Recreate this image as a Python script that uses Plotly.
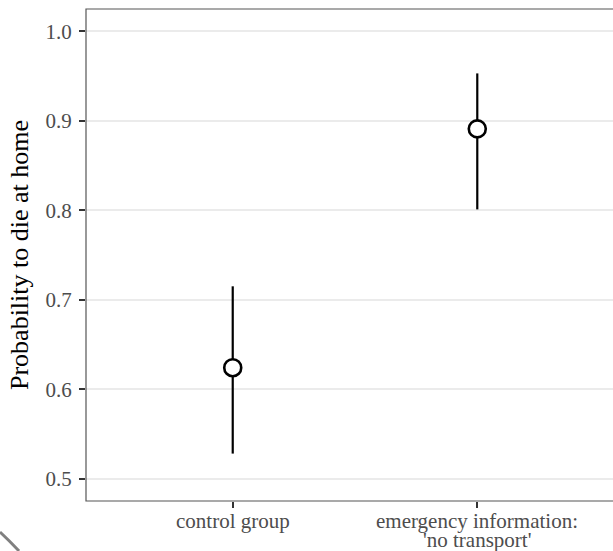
import plotly.graph_objects as go

categories = ["control group", "emergency information:<br>'no transport'"]
estimates = [0.624, 0.891]
lower = [0.528, 0.801]
upper = [0.715, 0.953]
y_ticks = [0.5, 0.6, 0.7, 0.8, 0.9, 1.0]
y_tick_labels = ["0.5", "0.6", "0.7", "0.8", "0.9", "1.0"]

xpos = [1, 2]
font_family = "Liberation Serif, Times New Roman, serif"

fig = go.Figure()
for xp, lo, hi in zip(xpos, lower, upper):
    fig.add_trace(go.Scatter(x=[xp, xp], y=[lo, hi], mode="lines",
                             line=dict(color="black", width=2.2),
                             showlegend=False, hoverinfo="skip"))
fig.add_trace(go.Scatter(x=xpos, y=estimates, mode="markers",
                         marker=dict(symbol="circle", size=17, color="white",
                                     line=dict(color="black", width=2.6)),
                         showlegend=False))

fig.update_layout(
    width=613, height=551,
    margin=dict(l=86, r=0, t=9, b=50),
    paper_bgcolor="white", plot_bgcolor="white",
    font=dict(family=font_family, color="#4d4d4d"),
    xaxis=dict(range=[0.4, 2.555], tickmode="array", tickvals=xpos,
               ticktext=[""] * len(xpos), showgrid=False, zeroline=False,
               ticks="outside", ticklen=6, tickwidth=1.5, tickcolor="#333333",
               showline=False),
    yaxis=dict(range=[0.475, 1.025], tickmode="array", tickvals=y_ticks,
               ticktext=y_tick_labels, showgrid=True, gridcolor="#ebebeb",
               gridwidth=1.5, zeroline=False,
               ticks="outside", ticklen=6, tickwidth=1.5, tickcolor="#333333",
               ticklabelstandoff=3,
               tickfont=dict(size=21, color="#4d4d4d", family=font_family),
               title=dict(text="Probability to die at home",
                          font=dict(size=26, color="black", family=font_family),
                          standoff=9),
               showline=False),
)

# x tick labels: each line placed separately (ggplot-like tight line spacing)
for xp, lab in zip(xpos, categories):
    for i, line in enumerate(lab.split("<br>")):
        fig.add_annotation(x=xp, y=0, xref="x", yref="paper", text=line,
                           showarrow=False, yanchor="top", xanchor="center",
                           borderpad=0,
                           yshift=-7 - 19 * i,
                           font=dict(size=21, color="#4d4d4d", family=font_family))

# panel border (right side lies outside the visible area)
fig.add_shape(type="rect", xref="paper", yref="paper", x0=0, x1=1.05, y0=0, y1=1,
              line=dict(color="#555555", width=1.2), fillcolor="rgba(0,0,0,0)",
              layer="above")
# small grey arc fragment in the lower-left corner of the reference image
fig.add_shape(type="path", xref="paper", yref="paper",
              path="M -0.1632,-0.063 Q -0.146,-0.080 -0.1271,-0.1016",
              line=dict(color="#808080", width=3))

fig.write_html("out.html",
               config={"displayModeBar": False},
               post_script="document.body.style.margin='0px';"
                           "document.documentElement.style.overflow='hidden';"
                           "document.body.style.overflow='hidden';")
